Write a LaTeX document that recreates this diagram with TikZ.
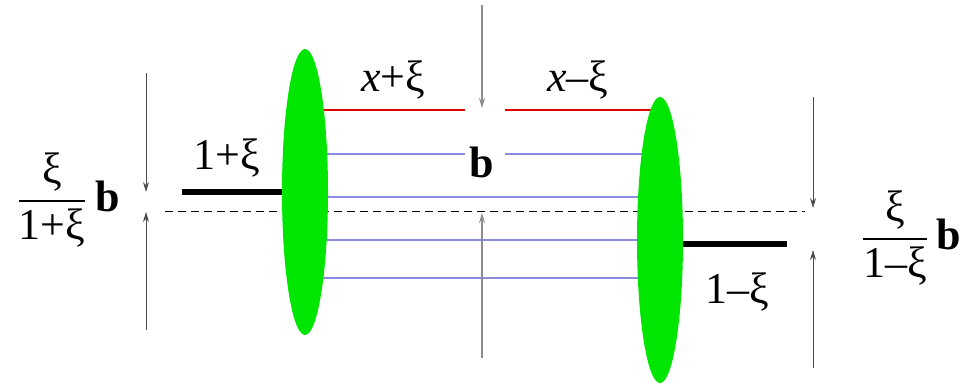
\documentclass[tikz,border=0pt]{standalone}
\usepackage{amsmath}
\usepackage{fontspec}
\setmainfont{Liberation Serif}
\usetikzlibrary{arrows.meta,positioning,shapes.geometric}
\definecolor{blobgreen}{RGB}{0,230,0}
\definecolor{partonblue}{RGB}{140,140,225}

\begin{document}
\begin{tikzpicture}[
  x=0.5pt, y=-0.5pt,
  font=\fontsize{22}{26}\selectfont,
  >={Stealth[length=5pt,width=3pt]},
  blob/.style={
    ellipse,
    fill=blobgreen,
    draw=none,
    inner sep=0pt,
    minimum width=23pt,
    minimum height=143pt
  },
  parton/.style={draw=partonblue, line width=0.7pt},
  quark/.style={draw=red!90!black, line width=1.1pt},
  hadron/.style={draw=black, line width=3pt},
  axisline/.style={draw=black, line width=0.5pt, dash pattern=on 4pt off 2.5pt},
  gaparrow/.style={->, draw=black!70, line width=0.4pt},
  midarrow/.style={->, draw=black!45, line width=0.8pt},
  lbl/.style={inner sep=1pt}
]
  \useasboundingbox (0,0) rectangle (962,382);

  % End points of the parton lines (drawn first, the blobs cover them).
  \coordinate (blobLc) at (305,192);
  \coordinate (blobRc) at (660,240);
  \coordinate (redLb) at (465,110);  \coordinate (redRa) at (505,110);
  \coordinate (blueLb) at (465,154); \coordinate (blueRa) at (505,154);
  \coordinate (axisL) at (165,211);  \coordinate (axisR) at (805,211);

  \draw[quark] (blobLc |- redLb) -- (redLb);
  \draw[quark] (redRa) -- (blobRc |- redRa);
  \draw[parton] (blobLc |- blueLb) -- (blueLb);
  \draw[parton] (blueRa) -- (blobRc |- blueRa);
  \foreach \yy in {197,240,278}
    \draw[parton] (306,\yy) -- (660,\yy);
  \draw[axisline] (axisL) -- (axisR);

  % Incoming and outgoing hadrons.
  \coordinate (inEnd) at (182,192);
  \coordinate (outEnd) at (787,244);
  \draw[hadron] (inEnd) -- (blobLc);
  \draw[hadron] (outEnd) -- (blobRc |- outEnd);
  \node[blob] (blobL) at (blobLc) {};
  \node[blob] (blobR) at (blobRc) {};

  % Transverse distances.
  \coordinate (lTop) at (146,73);   \coordinate (lTopTip) at (146,192);
  \coordinate (lBot) at (146,330);  \coordinate (lBotTip) at (146,212);
  \coordinate (rTop) at (813,97);   \coordinate (rTopTip) at (813,208);
  \coordinate (rBot) at (813,368);  \coordinate (rBotTip) at (813,250);
  \coordinate (mTop) at (482,5);    \coordinate (mTopTip) at (482,108);
  \coordinate (mBot) at (482,358);  \coordinate (mBotTip) at (482,213);

  \draw[gaparrow] (lTop) -- (lTopTip);
  \draw[gaparrow] (lBot) -- (lBotTip);
  \draw[gaparrow] (rTop) -- (rTopTip);
  \draw[gaparrow] (rBot) -- (rBotTip);
  \draw[midarrow] (mTop) -- (mTopTip);
  \draw[midarrow] (mBot) -- (mBotTip);

  % Labels.
  \node[lbl] (xplus) at (393,80) {\textit{x}+ξ};
  \node[lbl] (xminus) at (578,80) {\textit{x}–ξ};
  \node[lbl,fill=white] (bvec) at (482,162) {\textbf{b}};
  \node[lbl] (inmom) at (227,158) {1+ξ};
  \node[lbl] (outmom) at (737,292) {1–ξ};
  \node[lbl] (shiftL) at (68,200)
    {$\dfrac{\text{ξ}}{\text{1+ξ}}$\,\textbf{b}};
  \node[lbl] (shiftR) at (911,238)
    {$\dfrac{\text{ξ}}{\text{1–ξ}}$\,\textbf{b}};
\end{tikzpicture}
\end{document}
